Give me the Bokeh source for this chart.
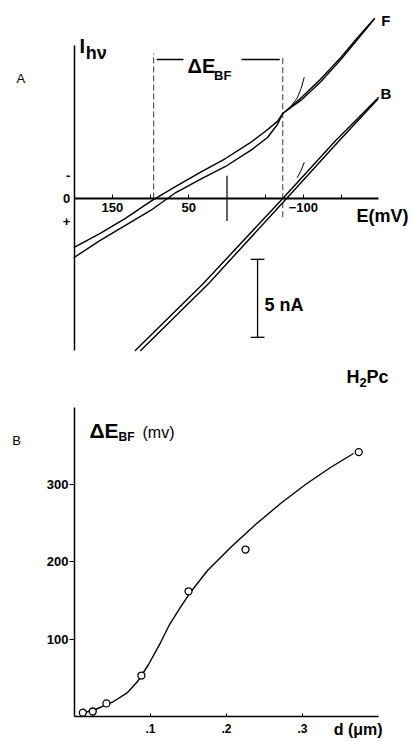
from bokeh.plotting import figure
from bokeh.models import Label, FixedTicker, Range1d, CustomJSTickFormatter
from bokeh.layouts import column
from bokeh.embed import file_html
from bokeh.resources import INLINE

# ---------------- Panel A: photocurrent vs. electrode potential ----------------
# potential E in mV (axis runs from +200 on the left to about -200 on the right),
# photocurrent in nA, cathodic (negative) current plotted upward.
# Film "F": forward and reverse sweeps
f_fwd_mv = [200, 166, 133, 100, 67, 35, 2, -31, -50, -66, -73, -96, -122, -149, -171, -193]
f_fwd_na = [-3.14, -2.24, -1.28, -0.19, 0.77, 1.67, 2.56, 3.59, 4.29, 4.94, 5.45, 6.41, 7.63, 9.04, 10.32, 11.54]
f_rev_mv = [200, 166, 133, 100, 67, 35, 2, -31, -53, -66, -73, -97, -123, -149, -171, -192]
f_rev_na = [-3.78, -2.69, -1.73, -0.77, 0.38, 1.22, 2.05, 3.08, 3.91, 4.74, 5.45, 6.3, 7.5, 8.9, 10.2, 11.45]
f_turn_mv = [-101, -97, -92, -85]
f_turn_na = [7.75, 7.05, 6.45, 6.0]

# Film "B": forward and reverse sweeps
b_fwd_mv = [120, 31, -73, -142, -198]
b_fwd_na = [-9.75, -5.45, 0.0, 3.7, 6.45]
b_rev_mv = [113, 24, -78, -145, -197]
b_rev_na = [-9.75, -5.45, 0.0, 3.6, 6.35]
b_turn_mv = [-101, -97, -92]
b_turn_na = [2.3, 1.8, 1.35]

# zero-current potentials of the two films (their difference is dE_BF)
e_zero_f = 96
e_zero_b = -73

# current scale bar
scale_bar_na = 5

# ---------------- Panel B: dE_BF vs. film thickness ----------------
thickness_um = [0.011, 0.024, 0.042, 0.088, 0.150, 0.225, 0.374]
delta_e_mv = [5, 6.5, 17, 53, 162, 216, 342]

# smooth curve drawn through the measurements
fit_um = [0.0132, 0.0276, 0.0421, 0.0513, 0.0697, 0.0829, 0.0974, 0.1132, 0.125, 0.1382,
          0.1513, 0.175, 0.2053, 0.2382, 0.2711, 0.3039, 0.3368, 0.3671]
fit_mv = [5.2, 9.1, 15.5, 19.4, 31.0, 45.3, 67.3, 95.7, 119.0, 139.7,
          159.1, 188.9, 218.6, 248.4, 275.5, 300.1, 322.1, 340.2]

FONT = "Liberation Sans"
INK = "black"


def label(p, x, y, text, size, bold=True, align="left", baseline="alphabetic"):
    p.add_layout(Label(x=x, y=y, text=text, text_font=FONT,
                       text_font_size=f"{size}px",
                       text_font_style="bold" if bold else "normal",
                       text_color=INK, text_align=align, text_baseline=baseline))


def bare_figure(width, height, x_range, y_range):
    p = figure(width=width, height=height, x_range=x_range, y_range=y_range,
               output_backend="svg", toolbar_location=None, min_border=0, title=None)
    p.grid.visible = False
    p.outline_line_color = None
    p.background_fill_color = "white"
    p.border_fill_color = "white"
    return p


def style_axis(ax, line_width):
    ax.axis_line_color = INK
    ax.axis_line_width = line_width
    ax.major_tick_line_color = INK
    ax.minor_tick_line_color = INK
    ax.major_label_text_font = FONT
    ax.major_label_text_font_style = "bold"
    ax.major_label_text_color = INK


# ================= Panel A =================
pa = bare_figure(412, 390, Range1d(296.5, -242.8), Range1d(-12.31, 12.69))

xa = pa.xaxis[0]
style_axis(xa, 2)
xa.fixed_location = 0
xa.bounds = (-198, 200)
xa.ticker = FixedTicker(ticks=[150, 50, -100], minor_ticks=[100, -50, -150])
xa.major_tick_in = 4
xa.major_tick_out = 0
xa.minor_tick_in = 4
xa.minor_tick_out = 0
xa.major_label_standoff = 5
xa.major_label_text_font_size = "13px"

ya = pa.yaxis[0]
style_axis(ya, 1.5)
ya.fixed_location = 200
ya.bounds = (-9.75, 9.8)
ya.ticker = FixedTicker(ticks=[1.5, 0, -1.5], minor_ticks=[])
ya.formatter = CustomJSTickFormatter(code="return tick > 0 ? '-' : (tick < 0 ? '+' : '0')")
ya.major_tick_in = 0
ya.major_tick_out = 0
ya.major_label_standoff = 4
ya.major_label_text_font_size = "13px"

# long tick marking E = 0
pa.segment(x0=[0], y0=[-1.45], x1=[0], y1=[1.45], line_color=INK, line_width=1.2)

# dashed markers at the zero-current potentials and the dE_BF bracket
pa.segment(x0=[e_zero_f, e_zero_b], y0=[0, -1.2], x1=[e_zero_f, e_zero_b], y1=[9.3, 9.0],
           line_color="#222222", line_width=0.9, line_dash="6 3")
pa.segment(x0=[e_zero_f - 4, -19], y0=[8.9, 8.9], x1=[57, e_zero_b + 4], y1=[8.9, 8.9],
           line_color=INK, line_width=1.5)

# sweep curves
for xs, ys in [(f_fwd_mv, f_fwd_na), (f_rev_mv, f_rev_na),
               (b_fwd_mv, b_fwd_na), (b_rev_mv, b_rev_na)]:
    pa.line(xs, ys, line_color=INK, line_width=1.4, line_join="round", line_cap="round")
for xs, ys in [(f_turn_mv, f_turn_na), (b_turn_mv, b_turn_na)]:
    pa.line(xs, ys, line_color=INK, line_width=1.0, line_join="round", line_cap="round")

# 5 nA scale bar
bar_x, bar_top = -40, -3.9
bar_bottom = bar_top - scale_bar_na
pa.segment(x0=[bar_x, bar_x - 9, bar_x - 9], y0=[bar_top, bar_top, bar_bottom],
           x1=[bar_x, bar_x + 9, bar_x + 9], y1=[bar_bottom, bar_top, bar_bottom],
           line_color=INK, line_width=1.3)

label(pa, 270, 7.7, "A", 13, bold=False, align="center", baseline="middle")
label(pa, 193, 9.8, "I", 20)
label(pa, 185, 9.35, "hν", 18)
label(pa, 51.7, 8.46, "ΔE", 20)
label(pa, 17, 7.88, "BF", 13)
label(pa, -208, 11.4, "F", 15, align="center", baseline="middle")
label(pa, -208, 6.75, "B", 15, align="center", baseline="middle")
label(pa, -169.5, -1.1, "E(mV)", 18, baseline="middle")
label(pa, -49, -6.8, "5 nA", 18, baseline="middle")
label(pa, -156.4, -11.47, "H", 18)
label(pa, -173.4, -11.8, "2", 13)
label(pa, -182.6, -11.47, "Pc", 18)

# ================= Panel B =================
pb = bare_figure(412, 351, Range1d(-0.0974, 0.4447), Range1d(-32.3, 421.7))

xb = pb.xaxis[0]
style_axis(xb, 1.5)
xb.fixed_location = 0
xb.bounds = (0, 0.4)
xb.ticker = FixedTicker(ticks=[0.1, 0.2, 0.3], minor_ticks=[])
xb.formatter = CustomJSTickFormatter(code="return tick.toFixed(1).replace(/^0/, '')")
xb.major_tick_in = 3
xb.major_tick_out = 0
xb.major_label_standoff = 7
xb.major_label_text_font_size = "12px"

yb = pb.yaxis[0]
style_axis(yb, 1.5)
yb.fixed_location = 0
yb.bounds = (0, 400)
yb.ticker = FixedTicker(ticks=[100, 200, 300], minor_ticks=[])
yb.major_tick_in = 0
yb.major_tick_out = 5
yb.major_label_standoff = 1
yb.major_label_text_font_size = "13px"

pb.line(fit_um, fit_mv, line_color=INK, line_width=1.4, line_join="round")
pb.scatter(thickness_um, delta_e_mv, size=7, fill_color="white", line_color=INK, line_width=1.3)

label(pb, -0.0763, 357, "B", 13, bold=False, align="center", baseline="middle")
label(pb, 0.0197, 370, "ΔE", 21)
label(pb, 0.0579, 361, "BF", 12)
label(pb, 0.0895, 367, "(mv)", 16, bold=False)
label(pb, 0.341, -16.5, "d (μm)", 16, baseline="middle")

layout = column(pa, pb)
open("out.html", "w").write(file_html(layout, INLINE, title="H2Pc photocurrent"))
